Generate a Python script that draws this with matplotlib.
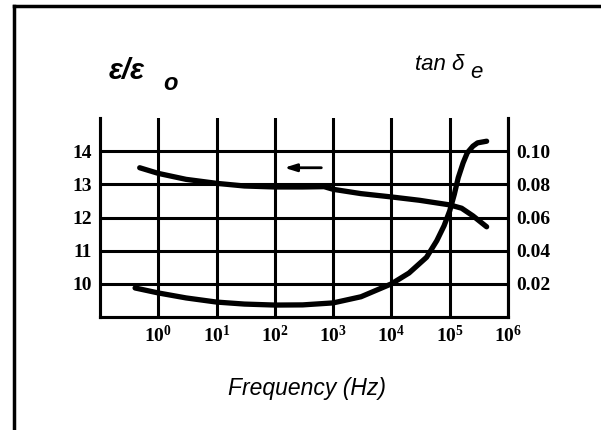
import matplotlib
matplotlib.use("Agg")
import matplotlib.pyplot as plt
from matplotlib.lines import Line2D

plt.rcParams['mathtext.fontset'] = 'custom'
plt.rcParams['mathtext.rm'] = 'Liberation Serif:bold'
plt.rcParams['mathtext.bf'] = 'Liberation Serif:bold'
plt.rcParams['mathtext.it'] = 'Liberation Serif:bold'

# Dielectric constant curve (left axis)
eps_freq = [0.48, 1, 3, 10, 30, 100, 300, 700, 1000, 3e3, 1e4, 3e4, 1e5, 1.6e5, 2.5e5, 4.3e5]
eps_vals = [13.5, 13.33, 13.15, 13.03, 12.95, 12.92, 12.92, 12.93, 12.85, 12.72, 12.62, 12.52, 12.38,
            12.28, 12.05, 11.72]

# Loss tangent curve (right axis)
tan_freq = [0.4, 1, 3, 10, 30, 100, 300, 1000, 3000, 1e4, 2e4, 4e4, 6e4, 8e4, 1e5, 1.2e5, 1.4e5,
            1.7e5, 2e5, 2.5e5, 3e5, 4.3e5]
tan_vals = [0.0175, 0.0145, 0.0115, 0.009, 0.0078, 0.0072, 0.0073, 0.0085, 0.0122, 0.020, 0.0265, 0.036,
            0.046, 0.055, 0.064, 0.074, 0.084, 0.093, 0.099, 0.103, 0.105, 0.106]

# Axis ticks and labels
x_ticks = [1, 10, 100, 1e3, 1e4, 1e5, 1e6]
x_labels = [r'$10^{0}$', r'$10^{1}$', r'$10^{2}$', r'$10^{3}$', r'$10^{4}$', r'$10^{5}$', r'$10^{6}$']
eps_ticks = [10, 11, 12, 13, 14]
tan_ticks = [0.02, 0.04, 0.06, 0.08, 0.10]
tan_labels = ['0.02', '0.04', '0.06', '0.08', '0.10']

fig = plt.figure(figsize=(6.01, 4.30), dpi=100)
ax = fig.add_axes([100 / 601, 1 - 317 / 430, 408 / 601, 199 / 430])
ax2 = ax.twinx()

ax.set_xscale('log')
ax.set_xlim(0.1, 1e6)
ax.set_ylim(9, 15)
ax2.set_ylim(0, 0.12)

ax.set_xticks(x_ticks)
ax.set_xticklabels(x_labels)
ax.minorticks_off()
ax.set_yticks(eps_ticks)
ax.set_yticklabels([str(t) for t in eps_ticks])
ax2.set_yticks(tan_ticks)
ax2.set_yticklabels(tan_labels)
ax.grid(True, color='black', linewidth=2.2)
ax.set_axisbelow(True)

for a in (ax, ax2):
    a.spines['top'].set_visible(False)
    for s in ('left', 'right', 'bottom'):
        a.spines[s].set_linewidth(2.2)
    a.tick_params(length=0, pad=6)

for lab in ax.get_yticklabels() + ax2.get_yticklabels():
    lab.set_fontfamily('Liberation Serif')
    lab.set_fontweight('bold')
    lab.set_fontsize(14)
for lab in ax.get_xticklabels():
    lab.set_fontsize(14)
    lab.set_fontweight('bold')
    lab.set_fontfamily('Liberation Serif')

ax.plot(eps_freq, eps_vals, color='black', linewidth=3.8, solid_capstyle='round', zorder=5)
ax2.plot(tan_freq, tan_vals, color='black', linewidth=3.8, solid_capstyle='round', zorder=5)

# arrow showing which axis the upper curve belongs to
ax.annotate('', xy=(130, 13.5), xytext=(700, 13.5),
            arrowprops=dict(arrowstyle='-|>,head_length=0.7,head_width=0.22', color='black', lw=2.0))

# outer frame (top and left only, rest is cut off)
fig.add_artist(Line2D([13.5 / 601, 1.0], [1 - 6 / 430, 1 - 6 / 430], color='black', linewidth=2.5,
                      transform=fig.transFigure))
fig.add_artist(Line2D([13.5 / 601, 13.5 / 601], [1 - 6 / 430, 0], color='black', linewidth=2.5,
                      transform=fig.transFigure))

sans = ['Liberation Sans', 'DejaVu Sans']
fig.text(109 / 601, 1 - 71 / 430, 'ε/ε', fontsize=21, style='italic', family=sans, va='center',
         ha='left', fontweight='bold')
fig.text(163 / 601, 1 - 84 / 430, 'o', fontsize=17, style='italic', family=sans, va='center',
         ha='left', fontweight='bold')
fig.text(415 / 601, 1 - 64 / 430, 'tan δ', fontsize=16, style='italic', family=sans, va='center',
         ha='left')
fig.text(470 / 601, 1 - 72 / 430, 'e', fontsize=16, style='italic', family=sans, va='center',
         ha='left')
fig.text(307 / 601, 1 - 388 / 430, 'Frequency (Hz)', fontsize=16.5, style='italic', family=sans,
         va='center', ha='center')

fig.savefig('out.png', dpi=100)
